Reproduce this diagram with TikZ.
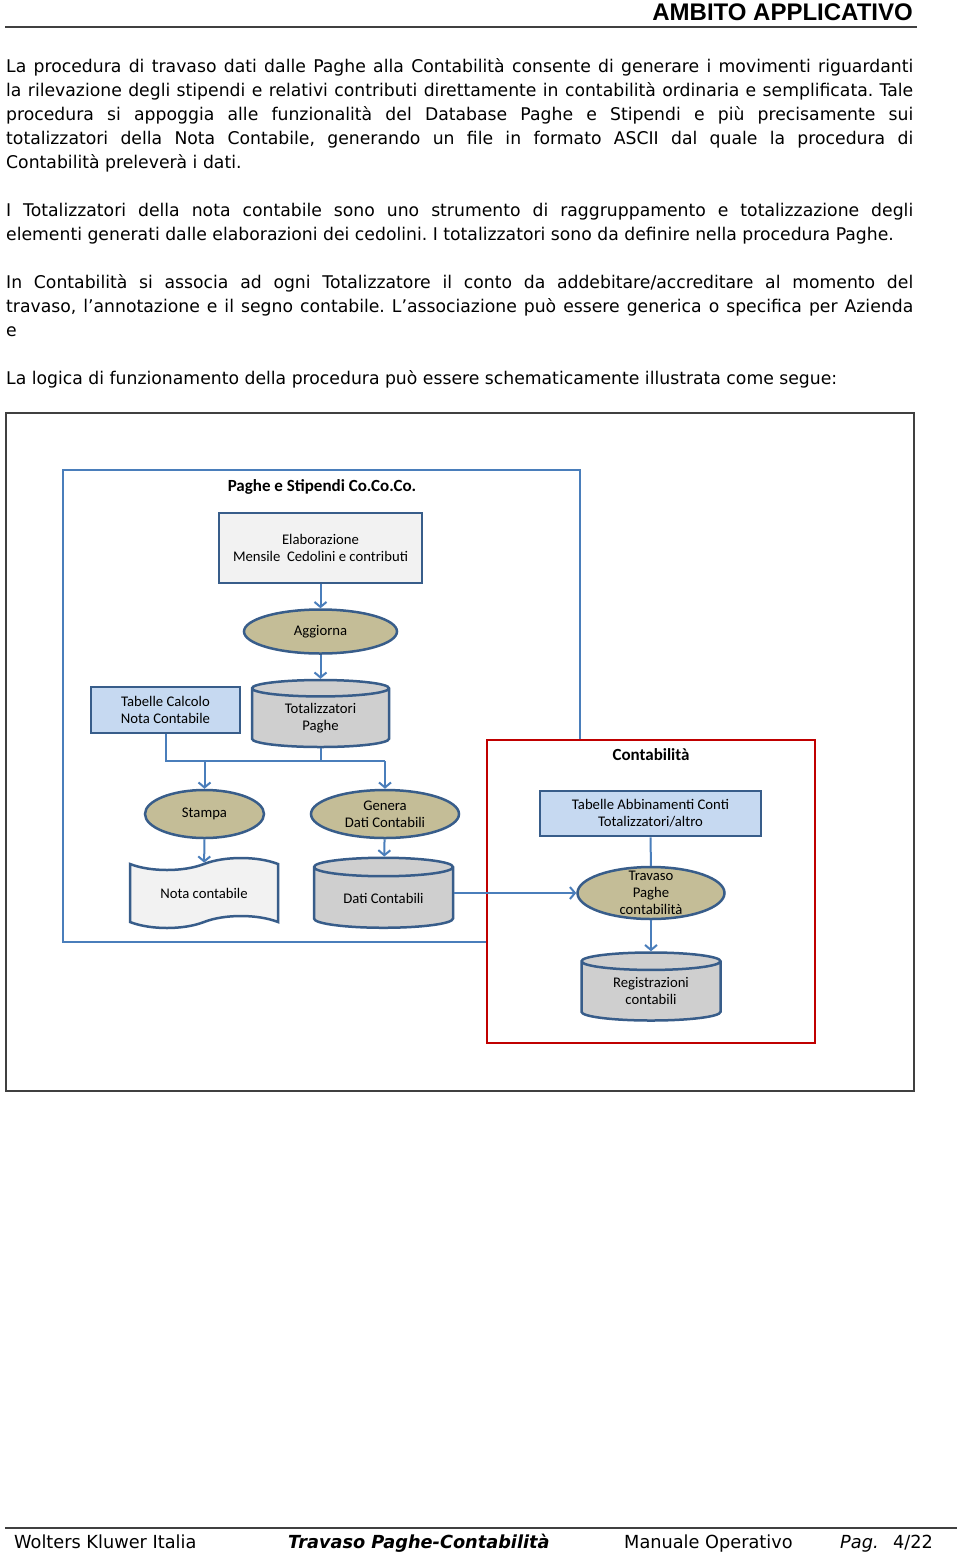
\documentclass[tikz,border=0pt]{standalone}
\usepackage{fontspec}
\setmainfont{DejaVu Sans}[FakeStretch=0.985]
\newfontfamily\diafont{Carlito}
\newfontfamily\headfont{Liberation Sans}
\usepackage{xcolor}
\usetikzlibrary{shapes.geometric, shapes.symbols, arrows.meta, positioning}

\definecolor{boxline}{HTML}{385D8A}
\definecolor{connline}{HTML}{4A7EBB}
\definecolor{framered}{HTML}{C00000}
\definecolor{framegray}{HTML}{404040}
\definecolor{tanfill}{HTML}{C4BD97}
\definecolor{bluefill}{HTML}{C6D9F1}
\definecolor{paperfill}{HTML}{F2F2F2}
\definecolor{dbfill}{HTML}{CFCFCF}

\hyphenpenalty=10000
\exhyphenpenalty=10000
\tolerance=9999
\frenchspacing

\tikzset{
  para/.style={text width=907pt, align=justify, inner sep=0pt, anchor=base west,
    font=\fontsize{17.5}{24}\selectfont},
  foot/.style={anchor=base west, inner sep=0pt, font=\fontsize{18}{24}\selectfont},
  rule/.style={draw=framegray, line width=1.5pt},
  dia/.style={font=\diafont\fontsize{14.7}{17}\selectfont, align=center},
  diatitle/.style={font=\diafont\bfseries\fontsize{17}{20}\selectfont},
  block/.style={dia, rectangle, draw=boxline, line width=2.5pt, inner sep=0pt},
  process/.style={dia, ellipse, draw=boxline, fill=tanfill, line width=2.5pt, inner sep=-9pt},
  archive/.style={dia, cylinder, shape border rotate=90, aspect=0.23, draw=boxline,
    fill=dbfill, line width=2.5pt, inner sep=0pt},
  printout/.style={dia, tape, draw=boxline, fill=paperfill, line width=2.5pt, inner sep=0pt,
    tape bend height=12pt},
  conn/.style={draw=connline, line width=2pt},
  arr/.style={conn, -{Straight Barb[length=5pt, width=12pt]}},
}

\begin{document}
\begin{tikzpicture}[x=1pt, y=-1pt]
  \useasboundingbox[fill=white] (0,0) rectangle (960,1553);
  % Page header
  \node[anchor=base east, inner sep=0pt, font=\headfont\bfseries\fontsize{24}{28}\selectfont] (header) at (913,20) {AMBITO APPLICATIVO};
  \draw[rule] (5,27) -- (917,27);
  % Text
  \node[para] (par1) at (6,72) {La procedura di travaso dati dalle Paghe alla Contabilità consente di generare i movimenti riguardanti\linebreak
    la rilevazione degli stipendi e relativi contributi direttamente in contabilità ordinaria e semplificata. Tale\linebreak
    procedura si appoggia alle funzionalità del Database Paghe e Stipendi e più precisamente sui\linebreak
    totalizzatori della Nota Contabile, generando un file in formato ASCII dal quale la procedura di\linebreak
    Contabilità preleverà i dati.};
  \node[para] (par2) at (6,216) {I Totalizzatori della nota contabile sono uno strumento di raggruppamento e totalizzazione degli\linebreak
    elementi generati dalle elaborazioni dei cedolini. I totalizzatori sono da definire nella procedura Paghe.};
  \node[para] (par3) at (6,288) {In Contabilità si associa ad ogni Totalizzatore il conto da addebitare/accreditare al momento del\linebreak
    travaso, l’annotazione e il segno contabile. L’associazione può essere generica o specifica per Azienda\linebreak
    e};
  \node[para] (par4) at (6,384) {La logica di funzionamento della procedura può essere schematicamente illustrata come segue:};

  % Frames
  \draw[rule] (6,413) rectangle (914,1091);
  \draw[connline, line width=1.5pt, fill=white] (63,470) rectangle (580,942);
  \node[diatitle] (paghetitle) at (322,487) {Paghe e Stipendi Co.Co.Co.};

  % Paghe
  \node[block, fill=paperfill, minimum width=203pt, minimum height=70pt] (elab) at (320.5,548) {Elaborazione\\Mensile\ \ Cedolini e contributi};
  \node[process, minimum width=153pt, minimum height=44pt, below=24pt of elab] (aggiorna) {Aggiorna};
  \node[archive, minimum width=137pt, minimum height=67pt, below=24pt of aggiorna] (totpaghe) {Totalizzatori\\Paghe};
  \node[block, fill=bluefill, minimum width=149pt, minimum height=46pt] (tabcalc) at (165.5,710) {Tabelle Calcolo\\Nota Contabile};
  \node[process, minimum width=119pt, minimum height=48pt] (stampa) at (204.5,814) {Stampa};
  \node[process, minimum width=148pt, minimum height=48pt] (genera) at (385,814) {Genera\\Dati Contabili};
  \node[printout, minimum width=148pt, minimum height=70pt] (nota) at (204,893) {Nota contabile};
  \node[archive, minimum width=139pt, minimum height=70pt] (daticont) at (383.5,898) {Dati Contabili};

  % Contabilita
  \draw[framered, line width=2.5pt, fill=white] (487,740) rectangle (815,1043);
  \node[diatitle] (contabtitle) at (651,755) {Contabilità};
  \node[block, fill=bluefill, minimum width=221pt, minimum height=45pt] (tababb) at (650.5,813.5) {Tabelle Abbinamenti Conti\\Totalizzatori/altro};
  \node[process, minimum width=147pt, minimum height=52pt] (travaso) at (651,893) {Travaso\\Paghe\\contabilità};
  \node[archive, minimum width=139pt, minimum height=68pt, below=31pt of travaso] (registr) {Registrazioni\\contabili};

  % Connections
  \coordinate (bus) at (385,761);
  \draw[arr] (elab) -- (aggiorna);
  \draw[arr] (aggiorna) -- (totpaghe);
  \draw[conn] (tabcalc.south) |- (bus);
  \draw[conn] (totpaghe.south) -- (totpaghe.south |- bus);
  \draw[arr] (stampa.north |- bus) -- (stampa);
  \draw[arr] (bus) -- (genera);
  \draw[arr] (stampa) -- (nota);
  \draw[arr] (genera) -- (daticont);
  \draw[arr] (daticont.east |- travaso) -- (travaso.west);
  \draw[conn] (tababb) -- (travaso);
  \draw[arr] (travaso) -- (registr);

  % Page footer
  \draw[rule] (5,1528) -- (957,1528);
  \node[foot] (company) at (14,1548) {Wolters Kluwer Italia};
  \node[foot, font=\fontsize{18}{24}\selectfont\bfseries\itshape] (doctitle) at (288,1548) {Travaso Paghe-Contabilità};
  \node[foot] (manual) at (624,1548) {Manuale Operativo};
  \node[foot, font=\fontsize{18}{24}\selectfont\itshape] (paglabel) at (840,1548) {Pag.};
  \node[foot] (pagnum) at (893,1548) {4/22};
\end{tikzpicture}
\end{document}
